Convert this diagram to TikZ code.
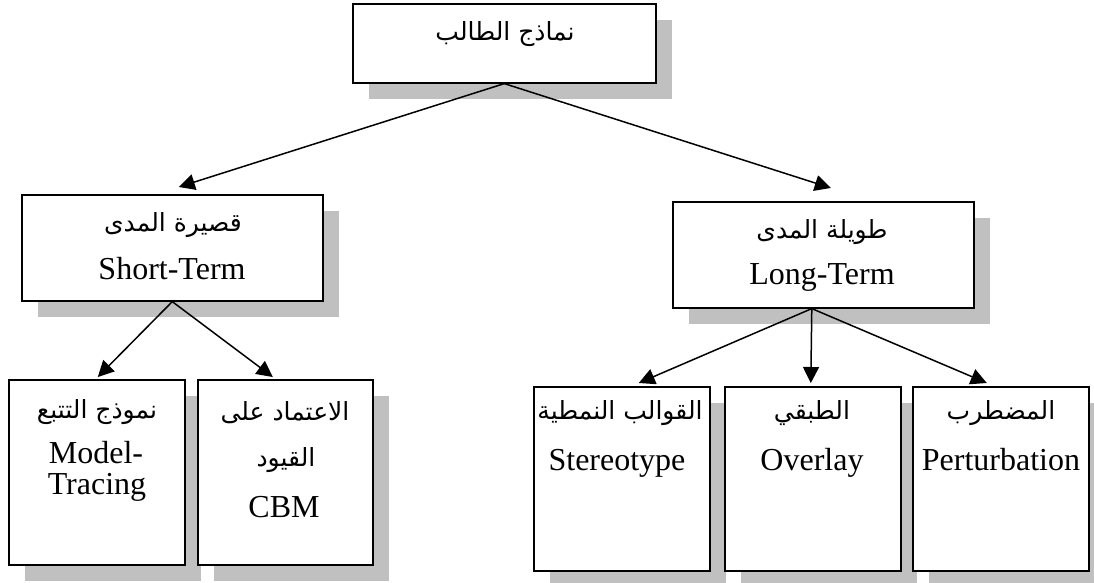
\documentclass[tikz,border=0pt]{standalone}
\usepackage{fontspec}
\setmainfont{Liberation Serif}
\newfontfamily\arabicfont[Script=Arabic]{DejaVu Sans}
\TeXXeTstate=1
\usetikzlibrary{arrows.meta,shadows}
\definecolor{shadowgray}{RGB}{192,192,192}

\tikzset{
  box/.style={draw, line width=1.6pt, fill=white, inner sep=0pt, anchor=north west,
    drop shadow={shadow xshift=16pt, shadow yshift=-16pt, fill=shadowgray, opacity=1}},
  artext/.style={font=\arabicfont\fontsize{25}{29}\selectfont, inner sep=0pt},
  entext/.style={font=\fontsize{32}{36}\selectfont, inner sep=0pt, anchor=base},
  arr/.style={line width=1.5pt, -{Triangle[length=16pt,width=16pt]}},
}

\begin{document}
\begin{tikzpicture}[x=1pt,y=-1pt]
\useasboundingbox (0,0) rectangle (1094,583);

% boxes
\node[box, minimum width=303pt, minimum height=79pt]  (root) at (352,3)   {};
\node[box, minimum width=301pt, minimum height=106pt] (st)   at (21,194)  {};
\node[box, minimum width=301pt, minimum height=106pt] (lt)   at (672,201) {};
\node[box, minimum width=176pt, minimum height=185pt] (mt)   at (8,379)   {};
\node[box, minimum width=175pt, minimum height=185pt] (cbm)  at (197,379) {};
\node[box, minimum width=176pt, minimum height=184pt] (ster) at (533,386) {};
\node[box, minimum width=176pt, minimum height=184pt] (ovl)  at (724,386) {};
\node[box, minimum width=176pt, minimum height=184pt] (pert) at (912,386) {};

% labels
\node[artext] (rootA) at (505,34) {\beginR نماذج الطالب\endR};

\node[artext] (stA) at (173,225) {\beginR قصيرة المدى\endR};
\node[entext] (stE) at (172,279) {Short-Term};

\node[artext] (ltA) at (822,232) {\beginR طويلة المدى\endR};
\node[entext] (ltE) at (822,284) {Long-Term};

\node[artext] (mtA) at (97,412) {\beginR نموذج التتبع\endR};
\node[entext] (mtE1) at (96,463) {Model-};
\node[entext] (mtE2) at (97,494) {Tracing};

\node[artext] (cbmA1) at (285,413) {\beginR الاعتماد على\endR};
\node[artext] (cbmA2) at (286,460) {\beginR القيود\endR};
\node[entext] (cbmE) at (284,517) {CBM};

\node[artext] (sterA) at (620,413) {\beginR القوالب النمطية\endR};
\node[entext] (sterE) at (617,470) {Stereotype};

\node[artext] (ovlA) at (812,413) {\beginR الطبقي\endR};
\node[entext] (ovlE) at (812,470) {Overlay};

\node[artext] (pertA) at (1001,413) {\beginR المضطرب\endR};
\node[entext] (pertE) at (1001,470) {Perturbation};

% connectors
\draw[arr] (root.south) -- ([xshift=6.5pt,yshift=7pt]st.north);
\draw[arr] (root.south) -- ([xshift=7.5pt,yshift=13pt]lt.north);

\draw[arr] (st.south) -- ([xshift=1pt,yshift=2pt]mt.north);
\draw[arr] (st.south) -- ([xshift=-12.5pt,yshift=2pt]cbm.north);

\draw[arr] ([xshift=-11.5pt]lt.south) -- ([xshift=17pt,yshift=3pt]ster.north);
\draw[arr] ([xshift=-11.5pt]lt.south) -- ([xshift=-2pt,yshift=3pt]ovl.north);
\draw[arr] ([xshift=-11.5pt]lt.south) -- ([xshift=-14pt,yshift=3pt]pert.north);
\end{tikzpicture}
\end{document}
